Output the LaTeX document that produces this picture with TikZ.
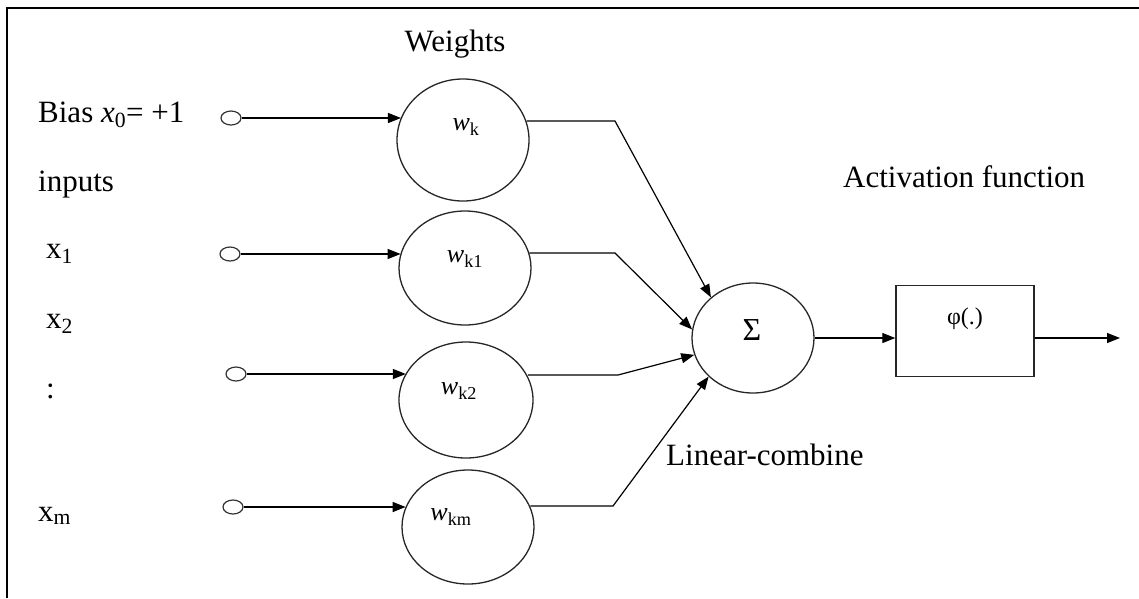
\documentclass[tikz,border=0pt]{standalone}
\usepackage{fontspec}
\setmainfont{Liberation Serif}
\usetikzlibrary{shapes.geometric,arrows.meta}
\begin{document}
\begin{tikzpicture}[x=1pt,y=-1pt,
  txt/.style={inner sep=0pt,font=\fontsize{31}{36}\selectfont},
  wlab/.style={inner sep=0pt,font=\fontsize{26}{30}\selectfont},
  port/.style={draw=black!80,line width=1.2pt,ellipse,minimum width=20pt,minimum height=14pt,inner sep=0pt},
  wnode/.style={draw=black!85,line width=1.3pt,ellipse,inner sep=0pt},
  arr/.style={line width=1.4pt,-{Triangle[length=13pt,width=10pt]}},
  conn/.style={line width=1.2pt,-{Triangle[length=13pt,width=10pt]}},
  frame/.style={line width=2.3pt}]
\useasboundingbox (0,0) rectangle (1139,598);
% frame
\coordinate (fbl) at (7,598);
\coordinate (ftl) at (7,8);
\coordinate (ftr) at (1139,8);
\draw[frame] (fbl) -- (ftl) -- (ftr);

% texts
\node[txt,anchor=base] (weights) at (455,51) {Weights};
\node[txt,anchor=base west] (bias) at (38,122) {Bias \textit{x}\textsubscript{0}= +1};
\node[txt,anchor=base west] (inputs) at (38,191) {inputs};
\node[txt,anchor=base west] (x1) at (46,258) {x\textsubscript{1}};
\node[txt,anchor=base west] (x2) at (46,328) {x\textsubscript{2}};
\node[txt,anchor=base west] (dots) at (46,398) {:};
\node[txt,anchor=base west] (xm) at (38,521) {x\textsubscript{m}};
\node[txt,anchor=base west] (act) at (843,187) {Activation function};
\node[txt,anchor=base west] (lin) at (666,465) {Linear-combine};

% input ports
\node[port] (c0) at (231,118) {};
\node[port] (c1) at (230,254) {};
\node[port] (c2) at (236,374) {};
\node[port] (cm) at (233,507) {};

% weight ellipses
\node[wnode,minimum width=132pt,minimum height=122pt] (wk) at (463,140) {};
\node[wnode,minimum width=132pt,minimum height=114pt] (wk1) at (465,268) {};
\node[wnode,minimum width=134pt,minimum height=116pt] (wk2) at (466,400) {};
\node[wnode,minimum width=132pt,minimum height=114pt] (wkm) at (468,527) {};

\node[wlab] (lwk) at (466,127) {\textit{w}\textsubscript{k}};
\node[wlab] (lwk1) at (465,259) {\textit{w}\textsubscript{k1}};
\node[wlab] (lwk2) at (459,391) {\textit{w}\textsubscript{k2}};
\node[wlab] (lwkm) at (451,517) {\textit{w}\textsubscript{km}};

% summation
\node[wnode,minimum width=122pt,minimum height=110pt] (sum) at (753,338) {};
\node[inner sep=0pt,font=\fontsize{32}{36}\selectfont] (sig) at (752,330) {Σ};

% activation box
\node[draw=black!85,line width=1.4pt,rectangle,inner xsep=0pt,inner ysep=0pt,
      minimum width=138pt,text height=39pt,text depth=52pt,
      font=\fontsize{24}{28}\selectfont] (phi) at (965,331) {φ(.)};
\coordinate (out) at (1120,338);

% input arrows
\draw[arr] (c0.east) -- (c0.east -| wk.160.3);
\draw[arr] (c1.east) -- (c1.east -| wk1.167.7);
\draw[arr] (c2.east) -- (c2.east -| wk2.156.5);
\draw[arr] (cm.east) -- (cm.east -| wkm.162.1);

% bend points
\coordinate (b0) at (615,121);
\coordinate (b1) at (615,253);
\coordinate (b2) at (618,375);
\coordinate (bm) at (613,506);

\draw[conn] (b0 -| wk.16.9) -- (b0) -- (sum.136.4);
\draw[conn] (b1 -| wk1.13.2) -- (b1) -- (sum.172);
\draw[conn] (b2 -| wk2.21.5) -- (b2) -- (sum.196.3);
\draw[conn] (bm -| wkm.18.9) -- (bm) -- (sum.221);

\draw[conn] (sum.east) -- (sum.east -| phi.west);
\draw[conn] (phi.east |- out) -- (out);
\end{tikzpicture}
\end{document}
